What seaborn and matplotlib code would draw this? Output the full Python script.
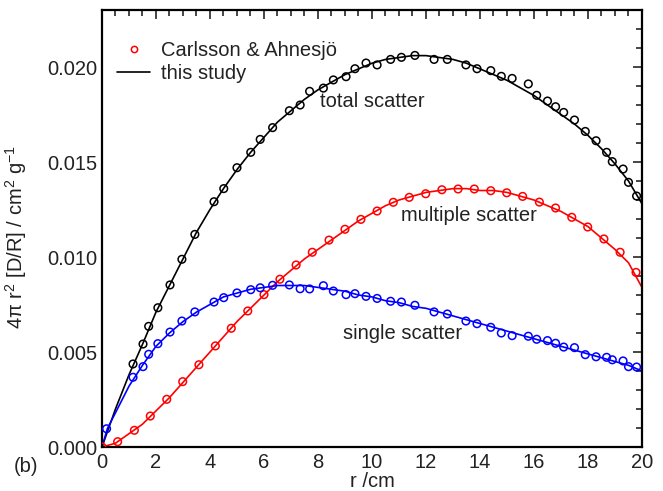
import pandas as pd
import matplotlib
matplotlib.use("Agg")
import matplotlib.pyplot as plt
from matplotlib.lines import Line2D
from matplotlib.ticker import MultipleLocator
import seaborn as sns

# pontos de Carlsson & Ahnesjo
x_total = [1.15, 1.52, 1.73, 2.07, 2.52, 2.96, 3.44, 4.15, 4.51, 5.0, 5.51, 5.86, 6.32, 6.94,
           7.34, 7.69, 8.2, 8.57, 9.04, 9.37, 9.78, 10.19, 10.69, 11.09, 11.59, 12.30, 12.79,
           13.48, 13.89, 14.40, 14.79, 15.19, 15.79, 16.1, 16.5, 16.8, 17.1, 17.5, 17.9, 18.3,
           18.69, 18.9, 19.3, 19.5, 19.8]
y_total = [0.00437, 0.00542, 0.00635, 0.00733, 0.00853, 0.00988, 0.01119, 0.01291, 0.01360,
           0.01470, 0.01551, 0.01619, 0.01681, 0.01770, 0.01800, 0.01872, 0.01889, 0.01932,
           0.01949, 0.01991, 0.02021, 0.02011, 0.02040, 0.02051, 0.02061, 0.02040, 0.02040,
           0.02011, 0.01991, 0.01981, 0.01951, 0.01940, 0.01911, 0.01851, 0.01821, 0.01791,
           0.01761, 0.01721, 0.01661, 0.01612, 0.01551, 0.01502, 0.01463, 0.01393, 0.01321]

x_single = [0.17] + x_total
y_single = [0.00096, 0.00367, 0.00423, 0.00488, 0.00544, 0.00605, 0.00663, 0.00711, 0.00763,
            0.00786, 0.00811, 0.00828, 0.00838, 0.00851, 0.00853, 0.00833, 0.00832, 0.00849,
            0.00821, 0.00802, 0.00807, 0.00793, 0.00782, 0.00767, 0.00763, 0.00746, 0.00711,
            0.00700, 0.00663, 0.00649, 0.00630, 0.00600, 0.00586, 0.00583, 0.00567, 0.00560,
            0.00546, 0.00526, 0.00523, 0.00486, 0.00475, 0.00472, 0.00459, 0.00453, 0.00423,
            0.00421]

x_mult = [0.0, 0.58, 1.2, 1.79, 2.4, 2.99, 3.59, 4.2, 4.79, 5.4, 6.0, 6.59, 7.19, 7.79, 8.41,
          9.0, 9.59, 10.19, 10.79, 11.38, 11.99, 12.59, 13.19, 13.79, 14.4, 14.99, 15.58, 16.2,
          16.8, 17.4, 17.99, 18.59, 19.19, 19.78]
y_mult = [0.0, 0.00028, 0.00088, 0.00163, 0.00251, 0.00344, 0.00433, 0.00532, 0.00625, 0.00716,
          0.00802, 0.00883, 0.00958, 0.01025, 0.01089, 0.01146, 0.01198, 0.01242, 0.01288,
          0.01314, 0.01333, 0.01354, 0.01358, 0.01358, 0.01349, 0.01338, 0.01319, 0.01289,
          0.01258, 0.01209, 0.01158, 0.01095, 0.01025, 0.00919]

# curvas "this study"
x_linha = [0, 0.5, 1, 1.5, 2, 2.5, 3, 3.5, 4, 4.5, 5, 5.5, 6, 6.5, 7, 7.5, 8, 8.5, 9, 9.5, 10,
           10.5, 11, 11.5, 12, 12.5, 13, 13.5, 14, 14.5, 15, 15.5, 16, 16.5, 17, 17.5, 18,
           18.5, 19, 19.5, 20]
linha_total = [0, 0.0020, 0.0038, 0.0054, 0.0071, 0.0085, 0.0099, 0.0113, 0.0125, 0.0136,
               0.0146, 0.0155, 0.0163, 0.0171, 0.0177, 0.0183, 0.0188, 0.0192, 0.0196, 0.0199,
               0.0202, 0.0204, 0.0205, 0.0206, 0.0206, 0.0205, 0.0204, 0.0202, 0.0199, 0.0196,
               0.0193, 0.0189, 0.0185, 0.0180, 0.0175, 0.0170, 0.0164, 0.0157, 0.0149, 0.0140,
               0.0128]
# a curva "single" passa pelo primeiro ponto (0.2 cm)
x_linha_single = [0, 0.2] + x_linha[1:]
linha_single = [0, 0.00097, 0.0018, 0.0032, 0.0043, 0.0053, 0.0060, 0.0066, 0.0071, 0.0075,
                0.0079, 0.0081, 0.0083, 0.0084, 0.0085, 0.0085, 0.0085, 0.0084, 0.0083, 0.0082,
                0.0080, 0.0079, 0.0077, 0.0076, 0.0074, 0.0073, 0.0071, 0.0069, 0.0067, 0.0065,
                0.0063, 0.0061, 0.0059, 0.0057, 0.0055, 0.0053, 0.0051, 0.0049, 0.0047, 0.0045,
                0.0043, 0.0040]
linha_mult = [0, 0.0002, 0.0007, 0.0012, 0.0019, 0.0026, 0.0034, 0.0042, 0.0050, 0.0058,
              0.0066, 0.0073, 0.0080, 0.0087, 0.0093, 0.0099, 0.0104, 0.0109, 0.0114, 0.0119,
              0.0123, 0.0127, 0.0130, 0.0132, 0.0134, 0.0135, 0.0136, 0.0136, 0.0135, 0.0135,
              0.0134, 0.0132, 0.0130, 0.0127, 0.0124, 0.0120, 0.0116, 0.0110, 0.0104, 0.0097,
              0.0084]

sns.set_style("white")
plt.rcParams["font.family"] = ["Liberation Sans", "DejaVu Sans"]
plt.rcParams["mathtext.fontset"] = "custom"
plt.rcParams["mathtext.rm"] = "Liberation Sans"
plt.rcParams["mathtext.it"] = "Liberation Sans:italic"
plt.rcParams["mathtext.default"] = "regular"

texto = "#222222"
fs = 14.5

fig = plt.figure(figsize=(6.63, 4.91), dpi=100)
ax = fig.add_axes([0.1538, 0.0896, 0.8145, 0.89])

df_linhas = pd.DataFrame({"r": x_linha, "total": linha_total, "mult": linha_mult})
df_single = pd.DataFrame({"r": x_linha_single, "single": linha_single})

sns.lineplot(data=df_linhas, x="r", y="total", color="black", lw=1.2, ax=ax, sort=False)
sns.lineplot(data=df_linhas, x="r", y="mult", color="red", lw=1.2, ax=ax, sort=False)
sns.lineplot(data=df_single, x="r", y="single", color="blue", lw=1.2, ax=ax, sort=False)

for xs, ys, cor in [(x_total, y_total, "black"), (x_mult, y_mult, "red"),
                    (x_single, y_single, "blue")]:
    sns.scatterplot(x=xs, y=ys, marker="o", s=30, facecolor="none", edgecolor=cor,
                    linewidth=1.1, ax=ax, zorder=3)

ax.set_xlim(0, 20)
ax.set_ylim(0, 0.023)
ax.xaxis.set_major_locator(MultipleLocator(2))
ax.xaxis.set_minor_locator(MultipleLocator(0.5))
ax.yaxis.set_major_locator(MultipleLocator(0.005))
ax.yaxis.set_minor_locator(MultipleLocator(0.001))
ax.yaxis.set_major_formatter(matplotlib.ticker.FormatStrFormatter("%.3f"))
ax.tick_params(which="both", direction="in", top=True, right=True,
               labelsize=fs, labelcolor=texto, width=1.2)
ax.tick_params(axis="x", pad=4)
ax.tick_params(axis="y", pad=3)
ax.tick_params(which="major", length=6.5)
ax.tick_params(which="minor", length=4)
for s in ax.spines.values():
    s.set_linewidth(1.6)
    s.set_color("black")

ax.set_xlabel("r /cm", fontsize=fs, color=texto, va="top")
ax.xaxis.set_label_coords(0.5, -0.058)
ax.set_ylabel(r"4$\pi$ r$^2$ [D/R] / cm$^2$ g$^{-1}$", fontsize=fs, color=texto)
ax.yaxis.set_label_coords(-0.135, 0.48)

ax.text(8.07, 0.0182, "total scatter", fontsize=fs, color=texto, va="center")
ax.text(11.07, 0.01221, "multiple scatter", fontsize=fs, color=texto, va="center")
ax.text(8.93, 0.0060, "single scatter", fontsize=fs, color=texto, va="center")
fig.text(0.02, 0.05, "(b)", fontsize=fs, color=texto, va="center")

handles = [Line2D([], [], ls="none", marker="o", mfc="none", mec="red", ms=4.5, mew=1.1),
           Line2D([], [], color="black", lw=1.2)]
leg = ax.legend(handles, ["Carlsson & Ahnesjö", "this study"], loc="upper left",
                bbox_to_anchor=(-0.005, 0.97), frameon=False, fontsize=fs,
                handlelength=1.6, handletextpad=0.55, labelspacing=0.2)
for t in leg.get_texts():
    t.set_color(texto)

plt.savefig("out.png", dpi=100)
